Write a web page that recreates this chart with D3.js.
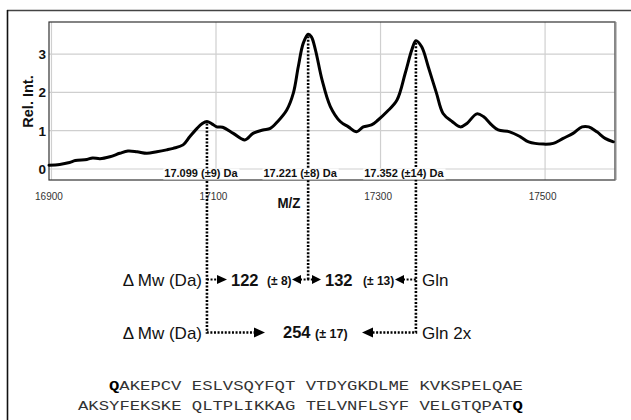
<!DOCTYPE html>
<html>
<head>
<meta charset="utf-8">
<script src="https://cdn.jsdelivr.net/npm/d3@7"></script>
<style>
  html, body { margin: 0; padding: 0; background: #fff; }
  svg { display: block; font-family: "Liberation Sans", Arial, Helvetica, sans-serif; }
</style>
</head>
<body>
<svg id="chart" width="631" height="420"></svg>
<script>
// Deconvoluted mass spectrum (m/z vs relative intensity)
const mz = [16897, 16910, 16922, 16929, 16943, 16950, 16959, 16971, 16983, 16993,
            17004, 17016, 17028, 17040, 17048, 17060, 17068, 17077, 17083, 17089,
            17095, 17101, 17108, 17121, 17135, 17145, 17157, 17166, 17175, 17186,
            17194, 17200, 17206, 17212, 17216, 17221, 17229, 17239, 17251, 17261,
            17271, 17279, 17289, 17297, 17308, 17320, 17330, 17338, 17343, 17350,
            17358, 17368, 17376, 17387, 17397, 17405, 17417, 17425, 17435, 17443,
            17457, 17470, 17480, 17498, 17510, 17522, 17534, 17545, 17553, 17563,
            17573, 17583];
const intensity = [0.10, 0.12, 0.17, 0.22, 0.25, 0.29, 0.27, 0.32, 0.41, 0.47,
                   0.45, 0.41, 0.45, 0.50, 0.54, 0.63, 0.84, 1.06, 1.18, 1.24,
                   1.18, 1.10, 1.09, 0.93, 0.76, 0.93, 1.02, 1.06, 1.24, 1.54,
                   1.98, 2.67, 3.28, 3.52, 3.45, 3.10, 2.32, 1.63, 1.24, 1.10,
                   0.97, 1.10, 1.15, 1.28, 1.50, 1.80, 2.50, 3.11, 3.35, 3.19,
                   2.67, 1.98, 1.45, 1.24, 1.10, 1.19, 1.44, 1.37, 1.15, 1.02,
                   0.97, 0.84, 0.71, 0.65, 0.67, 0.80, 0.93, 1.10, 1.10, 0.97,
                   0.80, 0.71];

const xTicks = [16900, 17100, 17300, 17500];
const yTicks = [0, 1, 2, 3];

// Annotated peaks
const peakMz = [17089, 17212, 17343];
const peakLabels = ["17.099 (±9) Da", "17.221 (±8) Da", "17.352 (±14) Da"];

// Mass differences
const deltaLabel = "Δ Mw (Da)";
const deltaSingle = [["122", "(± 8)"], ["132", "(± 13)"]];
const deltaDouble = ["254", "(± 17)"];
const residueLabels = ["Gln", "Gln 2x"];

// Protein sequence (bold Q at both termini)
const seqLine1 = ["Q", "AKEPCV ESLVSQYFQT VTDYGKDLME KVKSPELQAE"];
const seqLine2 = ["AKSYFEKSKE QLTPLIKKAG TELVNFLSYF VELGTQPAT", "Q"];

const svg = d3.select("#chart");

// Outer frame (top and left rules)
svg.append("line").attr("x1", 7).attr("x2", 631).attr("y1", 10.5).attr("y2", 10.5)
  .attr("stroke", "#444").attr("stroke-width", 1.3);
svg.append("line").attr("x1", 7.5).attr("x2", 7.5).attr("y1", 10).attr("y2", 420)
  .attr("stroke", "#111").attr("stroke-width", 1.6);

const plot = { left: 49, right: 615, top: 22, bottom: 180 };
const x = d3.scaleLinear().domain([16897, 17585]).range([plot.left, plot.right]);
const y = d3.scaleLinear().domain([-0.287, 3.838]).range([plot.bottom, plot.top]);

// Grid
const grid = svg.append("g").attr("stroke", "#cfcfcf").attr("stroke-width", 1.2);
grid.selectAll("line.v").data(xTicks).join("line").attr("class", "v")
  .attr("x1", d => x(d)).attr("x2", d => x(d)).attr("y1", plot.top).attr("y2", plot.bottom);
grid.selectAll("line.h").data(yTicks).join("line").attr("class", "h")
  .attr("x1", plot.left).attr("x2", plot.right).attr("y1", d => y(d)).attr("y2", d => y(d));

// Plot frame
svg.append("rect").attr("x", plot.left).attr("y", plot.top)
  .attr("width", plot.right - plot.left).attr("height", plot.bottom - plot.top)
  .attr("fill", "none").attr("stroke", "#333").attr("stroke-width", 1.2);
svg.append("line").attr("x1", plot.right + 0.5).attr("x2", plot.right + 0.5)
  .attr("y1", plot.top).attr("y2", plot.bottom)
  .attr("stroke", "#8a8a8a").attr("stroke-width", 2);

// Axes (labels only)
const xAxis = svg.append("g").attr("transform", `translate(0,${plot.bottom})`)
  .call(d3.axisBottom(x).tickValues(xTicks).tickSize(0).tickPadding(13).tickFormat(d3.format("d")));
xAxis.select(".domain").remove();
xAxis.selectAll("text").attr("dx", -3).attr("font-size", 10)
  .attr("font-family", "Liberation Sans, Arial, sans-serif").attr("fill", "#333");

const yAxis = svg.append("g").attr("transform", `translate(${plot.left},0)`)
  .call(d3.axisLeft(y).tickValues(yTicks).tickSize(0).tickPadding(3).tickFormat(d3.format("d")));
yAxis.select(".domain").remove();
yAxis.selectAll("text").attr("font-size", 13.5).attr("font-weight", "bold")
  .attr("font-family", "Liberation Sans, Arial, sans-serif").attr("fill", "#111");

svg.append("text").attr("transform", "translate(33,101.5) rotate(-90)")
  .attr("text-anchor", "middle").attr("font-size", 14.5).attr("font-weight", "bold")
  .attr("fill", "#111").text("Rel. Int.");

svg.append("text").attr("x", 289).attr("y", 208).attr("text-anchor", "middle")
  .attr("font-size", 14.5).attr("font-weight", "bold").attr("fill", "#111")
  .attr("transform", "translate(289,0) scale(0.92,1) translate(-289,0)")
  .text("M/Z");

// Spectrum trace
const spectrum = mz.map((m, i) => ({ m, v: intensity[i] }));
svg.append("path").datum(spectrum)
  .attr("fill", "none").attr("stroke", "#000").attr("stroke-width", 3)
  .attr("stroke-linejoin", "round").attr("stroke-linecap", "round")
  .attr("d", d3.line().x(d => x(d.m)).y(d => y(d.v)).curve(d3.curveCatmullRom.alpha(0.5)));

// Dotted guides from each peak down to the mass-difference rows
const row1 = 279.5, row2 = 332.5;
const peakVal = peakMz.map(m => intensity[mz.indexOf(m)]);
const px = peakMz.map(m => x(m));
const dots = svg.append("g").attr("fill", "none").attr("stroke", "#000");
const dotted = (pts, w, dash) => dots.append("path")
  .attr("d", d3.line()(pts)).attr("stroke-width", w).attr("stroke-dasharray", dash);

dotted([[px[0], y(peakVal[0]) + 2], [px[0], row2], [255, row2]], 2.6, "2,1.6");
dotted([[px[1], y(peakVal[1]) + 2], [px[1], row1]], 2.6, "2,1.6");
dotted([[px[2], y(peakVal[2]) + 2], [px[2], row2], [372, row2]], 2.6, "2,1.6");
dotted([[px[0], row1], [218, row1]], 2.2, "2,1.6");
dotted([[300, row1], [313, row1]], 2.2, "2,1.6");
dotted([[403, row1], [px[2], row1]], 2.2, "2,1.6");

// Peak mass labels on white backing, drawn over the guides
const labelShift = [-6, -8, -12];
const lblG = svg.append("g");
peakLabels.forEach((t, i) => {
  const cx = x(peakMz[i]) + labelShift[i];
  const txt = lblG.append("text").attr("x", cx).attr("y", 177).attr("text-anchor", "middle")
    .attr("font-size", 11).attr("font-weight", "bold").attr("fill", "#111").text(t);
  const bb = txt.node().getBBox();
  lblG.insert("rect", "text").attr("x", bb.x - 1).attr("y", 168.5)
    .attr("width", bb.width + 2).attr("height", 11).attr("fill", "#fff");
});

// Arrowheads
const head = (tipX, yy, dir, len = 10, half = 4.5) => svg.append("path")
  .attr("d", `M${tipX},${yy} L${tipX - dir * len},${yy - half} L${tipX - dir * len},${yy + half} Z`)
  .attr("fill", "#000");
head(227, row1, 1);
head(292, row1, -1, 9);
head(321, row1, 1, 9);
head(395, row1, -1, 9);
head(265, row2, 1, 11, 5);
head(362, row2, -1, 11, 5);

// Mass-difference text
const rowText = (xx, yy, t, size, weight, anchor = "start") => svg.append("text")
  .attr("x", xx).attr("y", yy).attr("font-size", size).attr("font-weight", weight)
  .attr("text-anchor", anchor).attr("fill", "#111").text(t);

rowText(202, row1 + 6, deltaLabel, 17, "normal", "end");
rowText(231, row1 + 6, deltaSingle[0][0], 16.5, "bold");
rowText(267, row1 + 5.5, deltaSingle[0][1], 12, "bold");
rowText(325, row1 + 6, deltaSingle[1][0], 16.5, "bold");
rowText(363, row1 + 5.5, deltaSingle[1][1], 12, "bold");
rowText(422, row1 + 6, residueLabels[0], 17, "normal");

rowText(202, row2 + 6, deltaLabel, 17, "normal", "end");
rowText(283, row2 + 5, deltaDouble[0], 16.5, "bold");
rowText(315, row2 + 5, deltaDouble[1], 12.5, "bold");
rowText(422, row2 + 6, residueLabels[1], 17, "normal");

// Sequence
const seqFont = "'Courier New', 'Liberation Mono', monospace";
const s1 = svg.append("text").attr("x", 109).attr("y", 390).attr("font-family", seqFont)
  .attr("font-size", 12.5).attr("fill", "#333")
  .attr("textLength", 414).attr("lengthAdjust", "spacingAndGlyphs");
s1.append("tspan").attr("font-weight", "bold").attr("fill", "#000").text(seqLine1[0]);
s1.append("tspan").text(seqLine1[1]);

const s2 = svg.append("text").attr("x", 78).attr("y", 409.5).attr("font-family", seqFont)
  .attr("font-size", 12.5).attr("fill", "#333")
  .attr("textLength", 445).attr("lengthAdjust", "spacingAndGlyphs");
s2.append("tspan").text(seqLine2[0]);
s2.append("tspan").attr("font-weight", "bold").attr("fill", "#000").text(seqLine2[1]);
</script>
</body>
</html>
